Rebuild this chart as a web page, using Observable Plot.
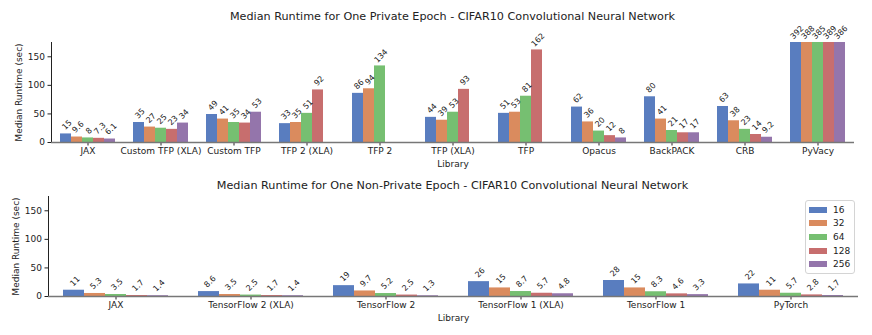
<!DOCTYPE html>
<html>
<head>
<meta charset="utf-8">
<script src="https://cdn.jsdelivr.net/npm/d3@7"></script>
<script src="https://cdn.jsdelivr.net/npm/@observablehq/plot@0.6"></script>
<style>
  html, body { margin: 0; padding: 0; background: #fff; }
  #root { position: relative; width: 872px; height: 335px; font-family: "DejaVu Sans", sans-serif; color: #222; }
  .title { position: absolute; left: 47px; width: 811px; text-align: center; font-size: 11.2px; line-height: 16px; height: 16px; }
  .chart { position: absolute; left: 0; }
  .chart svg { overflow: visible; }
  #legend { position: absolute; left: 805px; top: 200px; width: 50px; border: 1px solid #d4d4d4; border-radius: 3px; background: #fff; padding: 2px 0 2px 0; box-sizing: border-box; }
  .lrow { display: flex; align-items: center; height: 13.6px; font-size: 9px; }
  .lsw { width: 18px; height: 6px; margin: 0 6px 0 3px; }
</style>
</head>
<body>
<div id="root">
  <div class="title" id="t1" style="top:9px"></div>
  <div class="chart" id="c1" style="top:30px"></div>
  <div class="title" id="t2" style="top:178px"></div>
  <div class="chart" id="c2" style="top:184px"></div>
  <div id="legend"></div>
</div>
<script>
// ---- data ----
const sizes = [16, 32, 64, 128, 256];
const colors = ["#597dbf", "#da8b5e", "#76bf71", "#c76e6e", "#9475ab"];

const titlePrivate = "Median Runtime for One Private Epoch - CIFAR10 Convolutional Neural Network";
const privateLibs = ["JAX", "Custom TFP (XLA)", "Custom TFP", "TFP 2 (XLA)", "TFP 2", "TFP (XLA)", "TFP", "Opacus", "BackPACK", "CRB", "PyVacy"];
const privateValues = [
  [15, 9.6, 8, 7.3, 6.1],
  [35, 27, 25, 23, 34],
  [49, 41, 35, 34, 53],
  [33, 35, 51, 92, null],
  [86, 94, 134, null, null],
  [44, 39, 53, 93, null],
  [51, 53, 81, 162, null],
  [62, 36, 20, 12, 8],
  [80, 41, 21, 17, 17],
  [63, 38, 23, 14, 9.2],
  [392, 388, 385, 389, 386]
];

const titleNonPrivate = "Median Runtime for One Non-Private Epoch - CIFAR10 Convolutional Neural Network";
const nonPrivateLibs = ["JAX", "TensorFlow 2 (XLA)", "TensorFlow 2", "TensorFlow 1 (XLA)", "TensorFlow 1", "PyTorch"];
const nonPrivateValues = [
  [11, 5.3, 3.5, 1.7, 1.4],
  [8.6, 3.5, 2.5, 1.7, 1.4],
  [19, 9.7, 5.2, 2.5, 1.3],
  [26, 15, 8.7, 5.7, 4.8],
  [28, 15, 8.3, 4.6, 3.3],
  [22, 11, 5.7, 2.8, 1.7]
];

const yTicks = [0, 50, 100, 150];
const yMax = 175;
const yLabel = "Median Runtime (sec)";
const xLabel = "Library";

// ---- helpers ----
const labelFont = 8;
function labelWidth(s) {
  let w = 0;
  for (const c of s) w += (c === "." ? 0.318 : 0.636);
  return w * labelFont;
}
function labelDy(s) {
  return -Math.round(3 + (labelWidth(s) + 5.8) / (2 * Math.SQRT2));
}

function makeChart(libs, values, height, marginBottom) {
  const rows = [];
  libs.forEach((lib, i) => values[i].forEach((v, j) => {
    if (v != null) rows.push({lib, size: sizes[j], value: v, label: String(v)});
  }));
  const dys = Array.from(new Set(rows.map(r => labelDy(r.label))));
  const textMarks = dys.map(k => Plot.text(rows.filter(r => labelDy(r.label) === k), {
    fx: "lib", x: "size", y: "value", text: "label",
    rotate: -45, textAnchor: "middle", lineAnchor: "middle",
    dy: k, dx: 1, fontSize: labelFont, fill: "#222"
  }));
  return Plot.plot({
    width: 872,
    height,
    marginLeft: 47,
    marginRight: 14,
    marginTop: 12,
    marginBottom,
    style: {fontFamily: "DejaVu Sans", fontSize: "9px", color: "#222", background: "transparent", overflow: "visible"},
    fx: {domain: libs, padding: 0, label: xLabel, labelAnchor: "center", labelOffset: 24, tickSize: 3.5, tickPadding: 2},
    x: {domain: sizes, axis: null, paddingInner: 0, paddingOuter: 0.625},
    y: {domain: [0, yMax], clamp: true, ticks: yTicks, tickSize: 3.5, tickPadding: 3, line: true, label: yLabel, labelAnchor: "center", labelOffset: 36, labelArrow: false},
    color: {domain: sizes, range: colors},
    marks: [
      Plot.barY(rows, {fx: "lib", x: "size", y: "value", fill: "size", inset: 0}),
      Plot.ruleY([0], {stroke: "#777", strokeWidth: 1.3}),
      ...textMarks
    ]
  });
}

document.getElementById("t1").textContent = titlePrivate;
document.getElementById("t2").textContent = titleNonPrivate;
document.getElementById("c1").appendChild(makeChart(privateLibs, privateValues, 144, 32));
document.getElementById("c2").appendChild(makeChart(nonPrivateLibs, nonPrivateValues, 147, 35));

const legend = document.getElementById("legend");
sizes.forEach((s, i) => {
  const row = document.createElement("div");
  row.className = "lrow";
  const sw = document.createElement("div");
  sw.className = "lsw";
  sw.style.background = colors[i];
  const t = document.createElement("span");
  t.textContent = String(s);
  row.appendChild(sw);
  row.appendChild(t);
  legend.appendChild(row);
});
</script>
</body>
</html>
